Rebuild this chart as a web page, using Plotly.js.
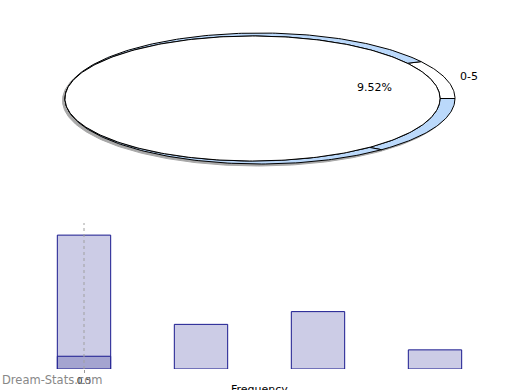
<!DOCTYPE html>
<html>
<head>
<meta charset="utf-8">
<script src="https://cdn.plot.ly/plotly-3.0.1.min.js"></script>
<style>html,body{margin:0;padding:0;background:#fff;}#chart{width:520px;height:390px;}</style>
</head>
<body>
<div id="chart"></div>
<script>
// ---- data ----
const pieLabels = ['0-5', '', ''];
const pieShares = [2, 3, 16];
const pieShowText = [true, false, false];
const pieSideColors = ['#ffffff', '#bbd9fb', '#bbd9fb'];

const binCenters = [0.5, 1.5, 2.5, 3.5];
const frequency = [21, 7, 9, 3];
const subCenters = [0.5];
const subFrequency = [2];
const tickVals = [0.5];
const tickText = ['0.5'];
const xTitle = 'Frequency';

// ---- pie geometry (style constants) ----
const topFace = {cx: 252.5, cy: 98.5, rx: 187.5, ry: 62.5};
const sideEdge = {cx: 260, cy: 98.5, rx: 195, ry: 65.5};
const DEG = Math.PI / 180;

function arc(e, a1, a2, n, dx, dy) {
  dx = dx || 0; dy = dy || 0;
  const xs = [], ys = [];
  for (let i = 0; i <= n; i++) {
    const a = (a1 + (a2 - a1) * i / n) * DEG;
    xs.push(e.cx + dx + e.rx * Math.cos(a));
    ys.push(e.cy + dy - e.ry * Math.sin(a));
  }
  return [xs, ys];
}

const total = pieShares.reduce((s, v) => s + v, 0);
const traces = [];

// shadow
const sh = arc(sideEdge, 0, 360, 360, -2.5, 2);
traces.push({x: sh[0], y: sh[1], type: 'scatter', mode: 'lines', fill: 'toself',
  fillcolor: '#a8a8a8', line: {color: '#a8a8a8', width: 1}, xaxis: 'x2', yaxis: 'y2', hoverinfo: 'skip'});

// side walls
let a = pieShares[0] / total * 360;
const sliceAngles = [];
pieShares.forEach((v, i) => {
  const span = v / total * 360;
  const a1 = a, a2 = a - span;
  sliceAngles.push([a1, a2]);
  const n = Math.max(8, Math.round(span));
  const o = arc(sideEdge, a1, a2, n);
  const inn = arc(topFace, a2, a1, n);
  traces.push({x: o[0].concat(inn[0]).concat([o[0][0]]), y: o[1].concat(inn[1]).concat([o[1][0]]),
    type: 'scatter', mode: 'lines', fill: 'toself', fillcolor: pieSideColors[i],
    line: {color: '#000', width: 1}, xaxis: 'x2', yaxis: 'y2', hoverinfo: 'skip'});
  a = a2;
});

// top face
const tf = arc(topFace, 0, 360, 360);
traces.push({x: tf[0], y: tf[1], type: 'scatter', mode: 'lines', fill: 'toself',
  fillcolor: '#ffffff', line: {color: '#000', width: 1}, xaxis: 'x2', yaxis: 'y2', hoverinfo: 'skip'});

// labels
const annotations = [];
pieShares.forEach((v, i) => {
  if (!pieShowText[i]) return;
  const mid = (sliceAngles[i][0] + sliceAngles[i][1]) / 2 * DEG;
  const pct = (v / total * 100).toFixed(2) + '%';
  annotations.push({xref: 'x2', yref: 'y2', x: topFace.cx + topFace.rx * 0.68 * Math.cos(mid),
    y: topFace.cy - topFace.ry * 0.6 * Math.sin(mid), text: pct, showarrow: false,
    font: {family: 'DejaVu Sans', size: 11, color: '#000'}});
  if (pieLabels[i]) annotations.push({xref: 'x2', yref: 'y2', x: topFace.cx + topFace.rx * 1.21 * Math.cos(mid),
    y: topFace.cy - topFace.ry * 1.17 * Math.sin(mid), text: pieLabels[i], showarrow: false,
    font: {family: 'DejaVu Sans', size: 11, color: '#000'}});
});

annotations.push({xref: 'paper', yref: 'paper', x: 0, y: (390 - 380) / 390, xanchor: 'left', yanchor: 'middle',
  text: 'Dream-Stats.com', showarrow: false, font: {family: 'DejaVu Sans', size: 11.5, color: '#888'}});

// x-axis title (partly cut by the bottom edge, as in the original)
annotations.push({xref: 'paper', yref: 'paper', x: (25.5 + 493.5) / 2 / 520, y: (390 - 389.5) / 390,
  xanchor: 'center', yanchor: 'middle', text: xTitle, showarrow: false,
  font: {family: 'DejaVu Sans', size: 11, color: '#000'}});

// dotted reference lines at tick positions (drawn above bars)
const shapes = tickVals.map(v => ({type: 'line', xref: 'x', yref: 'paper', x0: v, x1: v,
  y0: (390 - 369) / 390, y1: (390 - 223) / 390, layer: 'above',
  line: {color: '#a0a0a0', width: 1, dash: 'dot'}}));

// bars
traces.push({type: 'bar', x: binCenters, y: frequency, width: 0.456,
  marker: {color: '#cccce6', line: {color: '#1a1a8f', width: 1}}, xaxis: 'x', yaxis: 'y', hoverinfo: 'skip'});
traces.push({type: 'bar', x: subCenters, y: subFrequency, width: 0.456,
  marker: {color: '#a4a4d0', line: {color: '#1a1a8f', width: 1}}, xaxis: 'x', yaxis: 'y', hoverinfo: 'skip'});

const layout = {
  width: 520, height: 390,
  margin: {l: 0, r: 0, t: 0, b: 0},
  paper_bgcolor: '#fff', plot_bgcolor: 'rgba(0,0,0,0)',
  showlegend: false, barmode: 'overlay',
  xaxis: {domain: [25.5 / 520, 493.5 / 520], range: [0, 4], tickvals: tickVals, ticktext: tickText,
    showgrid: false, zeroline: false, showline: false,
    ticks: 'outside', ticklen: 3, tickcolor: '#999', tickfont: {family: 'DejaVu Sans', size: 9, color: '#222'},
    anchor: 'y'},
  yaxis: {domain: [(390 - 369) / 390, (390 - 223) / 390], range: [0, 22.9], visible: false, anchor: 'x'},
  xaxis2: {domain: [0, 1], range: [0, 520], visible: false, anchor: 'y2'},
  yaxis2: {domain: [0, 1], range: [390, 0], visible: false, anchor: 'x2'},
  annotations: annotations,
  shapes: shapes
};

Plotly.newPlot('chart', traces, layout, {staticPlot: true, displayModeBar: false});
</script>
</body>
</html>
